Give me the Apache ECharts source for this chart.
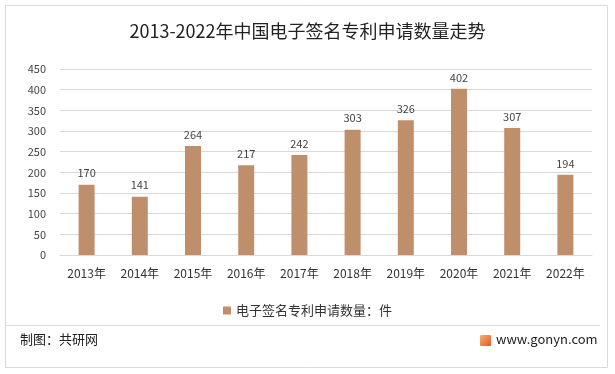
<!DOCTYPE html>
<html><head><meta charset="utf-8">
<script src="https://cdn.jsdelivr.net/npm/echarts@6/dist/echarts.min.js"></script>
<style>html,body{margin:0;padding:0;background:#fff}#c{width:615px;height:374px}</style>
</head><body><div id="c"></div>
<script>
const categories = ['2013年','2014年','2015年','2016年','2017年','2018年','2019年','2020年','2021年','2022年'];
const values = [170,141,264,217,242,303,326,402,307,194];
const seriesName = '电子签名专利申请数量：件';
const titleText = '2013-2022年中国电子签名专利申请数量走势';
const sourceText = '制图：共研网';
const siteText = 'www.gonyn.com';
const FONT = '"Noto Sans CJK SC","Noto Sans",sans-serif';

const chart = echarts.init(document.getElementById('c'), null, {renderer:'canvas'});
chart.setOption({
  animation:false,
  backgroundColor:'#fff',
  title:{text:titleText,left:'center',top:17,textStyle:{fontFamily:FONT,fontSize:18,fontWeight:'normal',color:'#222'}},
  grid:{left:60,right:23,top:69,bottom:119,containLabel:false},
  legend:{data:[seriesName],bottom:52,left:'center',itemWidth:8,itemHeight:8,itemGap:4,icon:'rect',
    textStyle:{fontFamily:FONT,fontSize:13,color:'#333'}},
  xAxis:{type:'category',data:categories,
    axisLine:{show:true,lineStyle:{color:'#d9d9d9'}},axisTick:{show:false},
    axisLabel:{interval:0,fontFamily:FONT,fontSize:12,color:'#333',margin:12}},
  yAxis:{type:'value',min:0,max:450,interval:50,
    axisLine:{show:false},axisTick:{show:false},
    splitLine:{lineStyle:{color:'#d9d9d9'}},
    axisLabel:{fontFamily:FONT,fontSize:11,color:'#444',margin:14}},
  series:[{name:seriesName,type:'bar',data:values,barWidth:16,
    itemStyle:{color:'#BF8F6B'},
    label:{show:true,position:'top',distance:6,fontFamily:FONT,fontSize:11,color:'#444'}}],
  graphic:[
    {type:'rect',shape:{x:5.5,y:5.5,width:602,height:362},style:{fill:null,stroke:'#d9d9d9',lineWidth:1},silent:true,z:-1},
    {type:'line',shape:{x1:6,y1:325.5,x2:600,y2:325.5},style:{stroke:'#d9d9d9',lineWidth:1}},
    {type:'text',left:20,top:333,style:{text:sourceText,font:'13px '+FONT,fill:'#222'}},
    {type:'rect',shape:{x:480,y:335,width:11,height:11,r:1},style:{fill:new echarts.graphic.LinearGradient(0,0,1,1,[{offset:0,color:'#f6b26b'},{offset:1,color:'#e8562a'}])}},
    {type:'text',left:496,top:333,style:{text:siteText,font:'13px '+FONT,fill:'#222'}}
  ]
});
</script></body></html>
